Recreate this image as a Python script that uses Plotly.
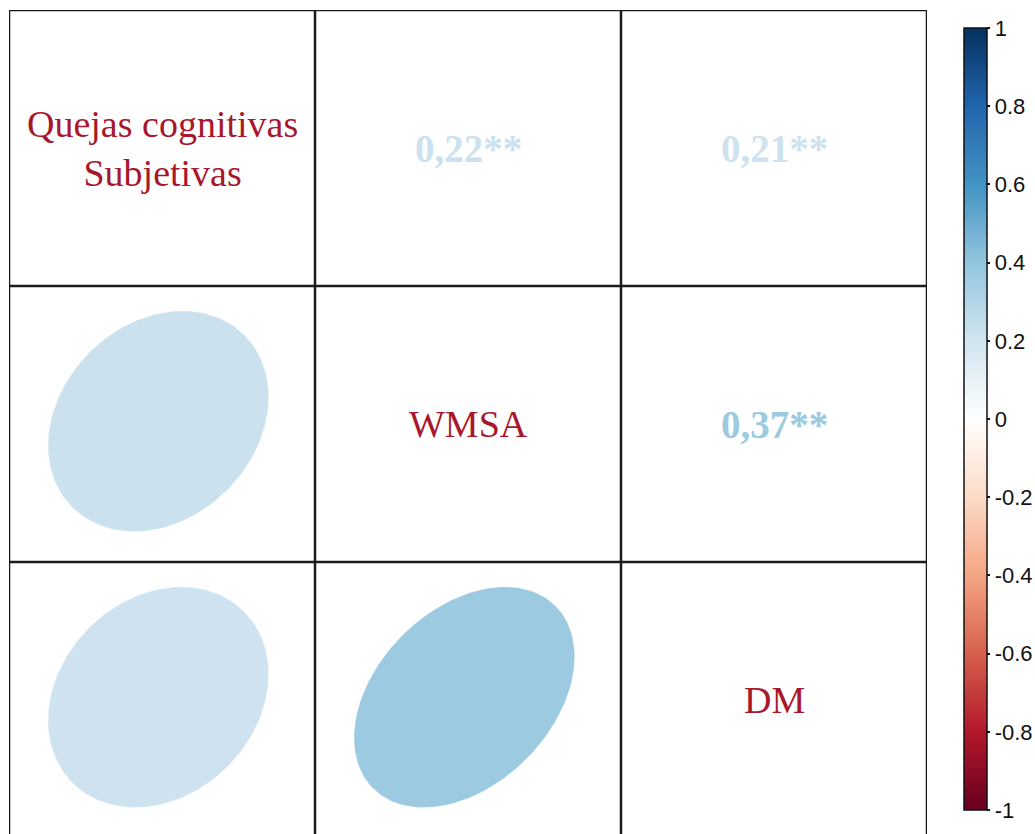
import numpy as np
import plotly.graph_objects as go

# ---- data ----
variables = ["Quejas cognitivas<br>Subjetivas", "WMSA", "DM"]
corr = [[1.00, 0.22, 0.21],
        [0.22, 1.00, 0.37],
        [0.21, 0.37, 1.00]]
stars = [["", "**", "**"],
         ["**", "", "**"],
         ["**", "**", ""]]
cbar_ticks = [-1, -0.8, -0.6, -0.4, -0.2, 0, 0.2, 0.4, 0.6, 0.8, 1]
cbar_labels = ["-1", "-0.8", "-0.6", "-0.4", "-0.2", "0", "0.2", "0.4", "0.6", "0.8", "1"]

# corrplot RdBu palette
pal = ["#67001F", "#B2182B", "#D6604D", "#F4A582", "#FDDBC7", "#FFFFFF",
       "#D1E5F0", "#92C5DE", "#4393C3", "#2166AC", "#053061"]
stops = np.linspace(-1, 1, len(pal))
colorscale = [[(s + 1) / 2, c] for s, c in zip(stops, pal)]


def hex2rgb(h):
    h = h.lstrip("#")
    return np.array([int(h[i:i + 2], 16) for i in (0, 2, 4)], dtype=float)


def val2color(v):
    rgbs = np.array([hex2rgb(c) for c in pal])
    r = [np.interp(v, stops, rgbs[:, k]) for k in range(3)]
    return "rgb(%d,%d,%d)" % tuple(int(round(x)) for x in r)


n = len(variables)
W, H = 1035, 834
ml, mr, mt, mb = 9, 108, 10, 0
cell_w = (W - ml - mr) / n
cell_h = 276.0
ybottom = n - (H - mt) / cell_h
plot_h = H - mt - mb

fig = go.Figure()

label_color = "#A8172B"
ann = []
half_px = 110.0
t = np.linspace(0, 2 * np.pi, 200)
for i in range(n):
    for j in range(n):
        cx = j + 0.5
        cy = n - i - 0.5
        r = corr[i][j]
        if i == j:
            ann.append(dict(x=cx, y=cy, xref="x", yref="y", text=variables[i],
                            showarrow=False,
                            font=dict(family="Liberation Serif", size=38, color=label_color)))
        elif j > i:
            txt = ("%.2f" % r).replace(".", ",") + stars[i][j]
            ann.append(dict(x=cx, y=cy, xref="x", yref="y", text="<b>" + txt + "</b>",
                            showarrow=False,
                            font=dict(family="Liberation Serif", size=39, color=val2color(r))))
        else:
            d = np.arccos(r)
            ex = np.cos(t + d / 2)
            ey = np.cos(t - d / 2)
            col = val2color(r)
            fig.add_trace(go.Scatter(
                x=cx - 0.012 + ex * half_px / cell_w, y=cy + 0.01 + ey * half_px / cell_h,
                mode="lines", fill="toself", fillcolor=col,
                line=dict(color=col, width=0.5), hoverinfo="skip", showlegend=False))

# grid lines
shapes = []
for k in range(n + 1):
    shapes.append(dict(type="line", xref="x", yref="y", x0=k, x1=k, y0=0, y1=n,
                       line=dict(color="#1a1a1a", width=2.5)))
    shapes.append(dict(type="line", xref="x", yref="y", x0=0, x1=n, y0=k, y1=k,
                       line=dict(color="#1a1a1a", width=2.5)))

# colorbar holder
fig.add_trace(go.Scatter(
    x=[None], y=[None], mode="markers", showlegend=False, hoverinfo="skip",
    marker=dict(color=[0], colorscale=colorscale, cmin=-1, cmax=1, showscale=True,
                colorbar=dict(
                    xref="container", yref="paper",
                    x=964 / W, xanchor="left", xpad=0,
                    y=(H - mb - 419) / plot_h, yanchor="middle", ypad=0,
                    lenmode="pixels", len=782, thickness=23,
                    outlinewidth=1.5, outlinecolor="#111111",
                    tickmode="array", tickvals=cbar_ticks, ticktext=cbar_labels,
                    ticks="outside", ticklen=3, tickwidth=1.5, tickcolor="#111111",
                    tickfont=dict(family="Liberation Sans", size=22, color="#111111"),
                ))))

fig.update_layout(
    width=W, height=H,
    margin=dict(l=ml, r=mr, t=mt, b=mb),
    paper_bgcolor="white", plot_bgcolor="white",
    xaxis=dict(range=[0, n], visible=False, fixedrange=True),
    yaxis=dict(range=[ybottom, n], visible=False, fixedrange=True),
    annotations=ann, shapes=shapes,
    showlegend=False,
)

fig.write_html("out.html")
